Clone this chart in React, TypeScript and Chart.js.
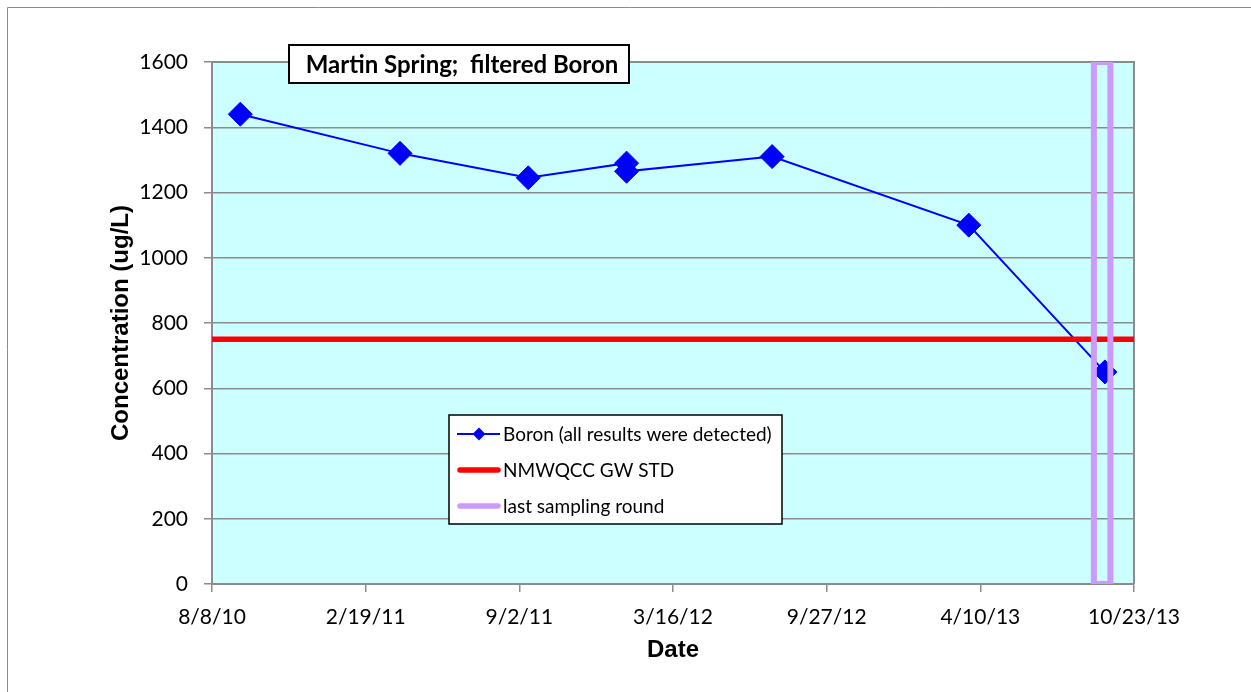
import React, { useEffect, useRef } from "react";
import { Chart, registerables } from "chart.js";

Chart.register(...registerables);

// ---- data ----
const sampleDates = [
  "2010-09-13",
  "2011-04-04",
  "2011-09-14",
  "2012-01-17",
  "2012-01-17",
  "2012-07-20",
  "2013-03-27",
  "2013-09-16",
];
const boronValues = [1440, 1320, 1245, 1290, 1265, 1310, 1100, 650];

const stdDates = ["2010-08-08", "2013-10-23"];
const stdValues = [750, 750];

const lastRoundDates = ["2013-09-02", "2013-09-02", "2013-09-23", "2013-09-23", "2013-09-02"];
const lastRoundValues = [0, 1600, 1600, 0, 0];

const seriesLabels = ["Boron (all results were detected)", "NMWQCC GW STD", "last sampling round"];
const chartTitle = "Martin Spring;  filtered Boron";
const xAxisTitle = "Date";
const yAxisTitle = "Concentration (ug/L)";

const xStart = "2010-08-08";
const xEnd = "2013-10-23";
const xStepDays = 195;
const yMin = 0;
const yMax = 1600;
const yStep = 200;

// ---- helpers ----
const toDay = (s: string) => {
  const [y, m, d] = s.split("-").map(Number);
  return Date.UTC(y, m - 1, d) / 86400000;
};
const fmtDay = (v: number) => {
  const dt = new Date(Math.floor(v + 1e-6) * 86400000);
  return `${dt.getUTCMonth() + 1}/${dt.getUTCDate()}/${String(dt.getUTCFullYear() % 100).padStart(2, "0")}`;
};
const pts = (dates: string[], vals: number[]) => dates.map((d, i) => ({ x: toDay(d), y: vals[i] }));

const BLUE = "#0000FF";
const RED = "#FF0000";
const PURPLE = "#CC99FF";
const GRID = "#8c8c8c";

const decorPlugin = {
  id: "decor",
  beforeDraw(chart: any) {
    const { ctx, chartArea: a, width, height } = chart;
    ctx.save();
    ctx.fillStyle = "#ffffff";
    ctx.fillRect(0, 0, width, height);
    ctx.strokeStyle = GRID;
    ctx.lineWidth = 1;
    ctx.beginPath();
    ctx.moveTo(7.5, height);
    ctx.lineTo(7.5, 7.5);
    ctx.lineTo(width, 7.5);
    ctx.stroke();
    ctx.fillStyle = "#CCFFFF";
    ctx.fillRect(a.left, a.top, a.right - a.left, a.bottom - a.top);
    ctx.restore();
  },
  beforeDatasetsDraw(chart: any) {
    const { ctx, chartArea: a } = chart;
    ctx.save();
    ctx.strokeStyle = GRID;
    ctx.lineWidth = 2;
    ctx.beginPath();
    ctx.moveTo(a.left, a.top);
    ctx.lineTo(a.right, a.top);
    ctx.lineTo(a.right, a.bottom);
    ctx.stroke();
    ctx.restore();
  },
  afterDraw(chart: any) {
    const { ctx } = chart;
    ctx.save();
    // title box
    ctx.fillStyle = "#ffffff";
    ctx.fillRect(289, 45, 340, 38);
    ctx.strokeStyle = "#000000";
    ctx.lineWidth = 2;
    ctx.strokeRect(289, 45, 340, 38);
    ctx.fillStyle = "#000000";
    ctx.font = "bold 24px Lato";
    ctx.textAlign = "center";
    ctx.textBaseline = "middle";
    ctx.fillText(chartTitle, 462, 65);

    // legend box
    const lx = 449, ly = 415, lw = 333, lh = 109;
    ctx.fillStyle = "#ffffff";
    ctx.fillRect(lx, ly, lw, lh);
    ctx.strokeStyle = "#000000";
    ctx.lineWidth = 1.5;
    ctx.strokeRect(lx, ly, lw, lh);
    const rows = [434, 470, 506];
    const ds = chart.data.datasets;
    ctx.font = "19px Lato";
    ctx.textAlign = "left";
    [0, 1, 2].forEach((di, r) => {
      const d = ds[di];
      const y = rows[r];
      ctx.strokeStyle = d.borderColor;
      ctx.lineWidth = di === 0 ? 2 : 5.5;
      ctx.lineCap = di === 0 ? "butt" : "round";
      ctx.beginPath();
      ctx.moveTo(di === 0 ? 457 : 460, y);
      ctx.lineTo(di === 0 ? 500 : 498, y);
      ctx.stroke();
      if (di === 0) {
        ctx.fillStyle = BLUE;
        ctx.beginPath();
        ctx.moveTo(479 - 6.5, y);
        ctx.lineTo(479, y - 6.5);
        ctx.lineTo(479 + 6.5, y);
        ctx.lineTo(479, y + 6.5);
        ctx.closePath();
        ctx.fill();
      }
      ctx.fillStyle = "#000000";
      ctx.fillText(d.label, 503, y + 1);
    });
    ctx.restore();
  },
};

export default function App() {
  const ref = useRef<HTMLCanvasElement | null>(null);

  useEffect(() => {
    if (!ref.current) return;
    const chart = new Chart(ref.current, {
      type: "line",
      data: {
        datasets: [
          {
            label: seriesLabels[0],
            data: pts(sampleDates, boronValues),
            borderColor: BLUE,
            backgroundColor: BLUE,
            borderWidth: 2,
            pointStyle: "rectRot",
            pointRadius: 12,
            pointBorderWidth: 1,
            pointBackgroundColor: BLUE,
            pointBorderColor: BLUE,
            tension: 0,
            order: 3,
          },
          {
            label: seriesLabels[1],
            data: pts(stdDates, stdValues),
            borderColor: RED,
            backgroundColor: RED,
            borderWidth: 5.5,
            pointRadius: 0,
            borderCapStyle: "round",
            order: 2,
            clip: 0,
          },
          {
            label: seriesLabels[2],
            data: pts(lastRoundDates, lastRoundValues),
            borderColor: PURPLE,
            backgroundColor: PURPLE,
            borderWidth: 6,
            pointRadius: 0,
            borderJoinStyle: "miter",
            order: 1,
            clip: 0,
          },
        ],
      },
      options: {
        animation: false,
        responsive: true,
        maintainAspectRatio: false,
        layout: { padding: { left: 103, top: 62, right: 117, bottom: 23 } },
        plugins: {
          legend: { display: false },
          tooltip: { enabled: false },
          title: { display: false },
        },
        scales: {
          x: {
            type: "linear",
            min: toDay(xStart),
            max: toDay(xEnd),
            afterFit: (s: any) => {
              s.height = 85;
            },
            ticks: {
              stepSize: xStepDays,
              color: "#000",
              font: { family: "Lato", size: 21 },
              padding: 13,
              maxRotation: 0,
              autoSkip: false,
              callback: (v: any) => fmtDay(Number(v)),
            },
            grid: {
              drawOnChartArea: false,
              drawTicks: true,
              tickLength: 8,
              color: GRID,
              lineWidth: 1.5,
            },
            border: { color: GRID, width: 2 },
            title: {
              display: true,
              text: xAxisTitle,
              color: "#000",
              font: { family: "Liberation Sans", size: 24, weight: "bold" },
              padding: { top: 4, bottom: 4 },
            },
          },
          y: {
            min: yMin,
            max: yMax,
            afterFit: (s: any) => {
              s.width = 109;
            },
            ticks: {
              stepSize: yStep,
              color: "#000",
              font: { family: "Lato", size: 21 },
              padding: 16,
              callback: (v: any) => String(v),
            },
            grid: {
              color: GRID,
              lineWidth: 1.5,
              tickLength: 8,
            },
            border: { color: GRID, width: 2 },
            title: {
              display: true,
              text: yAxisTitle,
              color: "#000",
              font: { family: "Liberation Sans", size: 24, weight: "bold" },
              padding: { top: 4, bottom: 4 },
            },
          },
        },
      },
      plugins: [decorPlugin],
    });
    return () => chart.destroy();
  }, []);

  return (
    <div style={{ position: "absolute", left: 0, top: 0, width: 1251, height: 692 }}>
      <canvas ref={ref} />
    </div>
  );
}
